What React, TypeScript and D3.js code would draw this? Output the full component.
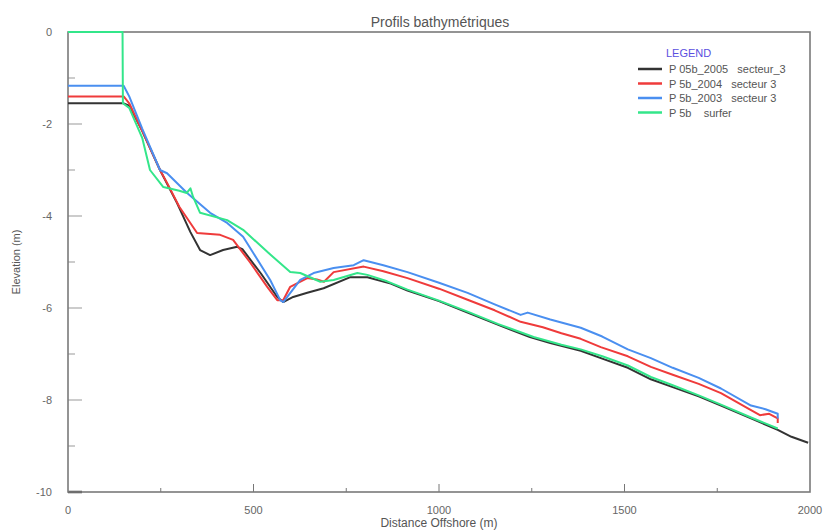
import React, { useEffect, useRef } from 'react';
import * as d3 from 'd3';

// profil 2005 (noir)
const dist2005 = [0, 150, 165, 200, 248, 294, 330, 356, 383, 418, 456, 470, 520, 564, 580, 607, 645, 689, 761, 807, 870, 915, 1000, 1077, 1170, 1245, 1300, 1382, 1440, 1509, 1571, 1630, 1700, 1760, 1841, 1913, 1950, 1995];
const elev2005 = [-1.55, -1.55, -1.6, -2.15, -3.0, -3.72, -4.35, -4.74, -4.85, -4.74, -4.67, -4.72, -5.25, -5.76, -5.87, -5.76, -5.67, -5.57, -5.33, -5.33, -5.47, -5.62, -5.85, -6.1, -6.4, -6.63, -6.76, -6.93, -7.1, -7.3, -7.55, -7.72, -7.92, -8.12, -8.4, -8.65, -8.8, -8.93];

// profil 2004 (rouge)
const dist2004 = [0, 150, 165, 200, 248, 267, 300, 348, 410, 445, 490, 537, 564, 580, 599, 645, 671, 690, 716, 797, 850, 915, 1000, 1077, 1150, 1220, 1280, 1330, 1382, 1436, 1509, 1571, 1630, 1700, 1760, 1841, 1865, 1890, 1913, 1913];
const elev2004 = [-1.4, -1.4, -1.55, -2.15, -3.0, -3.28, -3.8, -4.37, -4.41, -4.52, -5.0, -5.54, -5.83, -5.83, -5.54, -5.35, -5.38, -5.43, -5.22, -5.1, -5.2, -5.35, -5.58, -5.82, -6.05, -6.3, -6.42, -6.55, -6.67, -6.85, -7.05, -7.28, -7.45, -7.65, -7.85, -8.22, -8.33, -8.3, -8.4, -8.5];

// profil 2003 (bleu)
const dist2003 = [0, 150, 165, 200, 248, 267, 321, 383, 429, 472, 545, 572, 580, 591, 626, 662, 716, 770, 797, 850, 915, 1000, 1077, 1150, 1220, 1239, 1300, 1382, 1440, 1509, 1571, 1630, 1700, 1760, 1841, 1880, 1913, 1913];
const elev2003 = [-1.17, -1.17, -1.4, -2.1, -3.0, -3.07, -3.5, -3.93, -4.15, -4.45, -5.39, -5.83, -5.87, -5.76, -5.39, -5.24, -5.13, -5.07, -4.96, -5.07, -5.22, -5.45, -5.67, -5.92, -6.15, -6.1, -6.25, -6.43, -6.62, -6.9, -7.09, -7.3, -7.52, -7.75, -8.12, -8.2, -8.3, -8.4];

// profil surfer (vert)
const distSurfer = [0, 147, 148, 165, 200, 221, 257, 300, 320, 330, 337, 356, 429, 472, 540, 599, 626, 680, 716, 780, 807, 860, 915, 1000, 1077, 1160, 1255, 1330, 1382, 1440, 1509, 1571, 1630, 1700, 1760, 1841, 1913];
const elevSurfer = [0, 0, -1.55, -1.65, -2.3, -3.0, -3.37, -3.45, -3.5, -3.4, -3.58, -3.93, -4.09, -4.3, -4.8, -5.22, -5.24, -5.43, -5.39, -5.24, -5.28, -5.42, -5.6, -5.84, -6.08, -6.35, -6.63, -6.8, -6.9, -7.05, -7.25, -7.5, -7.68, -7.9, -8.1, -8.38, -8.62];

const seriesNames = ['P 05b_2005   secteur_3', 'P 5b_2004   secteur 3', 'P 5b_2003   secteur 3', 'P 5b    surfer'];
const seriesColors = ['#333333', '#ef3b3b', '#4a8ff0', '#33e68a'];
const xTicks = [0, 500, 1000, 1500, 2000];
const yTicks = [0, -2, -4, -6, -8, -10];

export default function App() {
  const ref = useRef<SVGSVGElement>(null);

  useEffect(() => {
    const svg = d3.select(ref.current);
    svg.selectAll('*').remove();

    const left = 68, right = 810, top = 32, bottom = 492;
    const x = d3.scaleLinear().domain([0, 2000]).range([left, right]);
    const y = d3.scaleLinear().domain([-10, 0]).range([bottom, top]);
    const font = 'Liberation Sans, Arial, sans-serif';

    svg.append('text')
      .attr('x', 440).attr('y', 27)
      .attr('text-anchor', 'middle')
      .attr('font-family', font).attr('font-size', 14)
      .attr('fill', '#555')
      .text('Profils bathymétriques');

    // graduations (majeures + mineures)
    const g = svg.append('g');
    d3.range(-10, 0.01, 1).forEach(v => {
      const major = Math.round(v) % 2 === 0;
      g.append('line')
        .attr('x1', left).attr('x2', left + (major ? 14 : 7))
        .attr('y1', y(v)).attr('y2', y(v))
        .attr('stroke', v === -10 ? '#444' : '#999').attr('stroke-width', v === -10 ? 2.5 : 1);
    });
    d3.range(250, 2000, 250).forEach(v => {
      const major = v % 500 === 0;
      g.append('line')
        .attr('x1', x(v)).attr('x2', x(v))
        .attr('y1', bottom).attr('y2', bottom - (major ? 8 : 4))
        .attr('stroke', '#777').attr('stroke-width', 1);
    });

    svg.append('rect')
      .attr('x', left).attr('y', top)
      .attr('width', right - left).attr('height', bottom - top)
      .attr('fill', 'none').attr('stroke', '#7a7a7a').attr('stroke-width', 1.6);

    svg.selectAll('.ylab').data(yTicks).enter().append('text')
      .attr('x', 52).attr('y', d => y(d) + 4)
      .attr('text-anchor', 'end')
      .attr('font-family', font).attr('font-size', 11).attr('fill', '#666')
      .text(d => String(d));

    svg.selectAll('.xlab').data(xTicks).enter().append('text')
      .attr('x', d => x(d)).attr('y', 514)
      .attr('text-anchor', 'middle')
      .attr('font-family', font).attr('font-size', 11).attr('fill', '#666')
      .text(d => String(d));

    svg.append('text')
      .attr('x', 439).attr('y', 527)
      .attr('text-anchor', 'middle')
      .attr('font-family', font).attr('font-size', 12).attr('fill', '#555')
      .text('Distance Offshore (m)');

    svg.append('text')
      .attr('transform', 'translate(20,262) rotate(-90)')
      .attr('text-anchor', 'middle')
      .attr('font-family', font).attr('font-size', 11).attr('fill', '#555')
      .text('Elevation (m)');

    const series = [
      [dist2005, elev2005],
      [dist2004, elev2004],
      [dist2003, elev2003],
      [distSurfer, elevSurfer],
    ];
    const line = d3.line<number>()
      .x((d, k) => x(d))
      .curve(d3.curveLinear);
    series.forEach(([ds, es], i) => {
      line.y((d, k) => y(es[k]));
      svg.append('path')
        .attr('d', line(ds) as string)
        .attr('fill', 'none')
        .attr('stroke', seriesColors[i])
        .attr('stroke-width', 2)
        .attr('stroke-linejoin', 'round');
    });

    // legende
    const lg = svg.append('g');
    lg.append('text')
      .attr('x', 666).attr('y', 57)
      .attr('font-family', font).attr('font-size', 11).attr('fill', '#5a4fe0')
      .text('LEGEND');
    seriesNames.forEach((name, i) => {
      const yy = 69 + i * 14.5;
      lg.append('line')
        .attr('x1', 638).attr('x2', 662)
        .attr('y1', yy).attr('y2', yy)
        .attr('stroke', seriesColors[i]).attr('stroke-width', 2.5);
      lg.append('text')
        .attr('x', 669).attr('y', yy + 4)
        .attr('font-family', font).attr('font-size', 11).attr('fill', '#555')
        .style('white-space', 'pre')
        .text(name);
    });
  }, []);

  return (
    <svg ref={ref} width={824} height={532} style={{ position: 'absolute', left: 0, top: 0, background: '#fff' }} />
  );
}
